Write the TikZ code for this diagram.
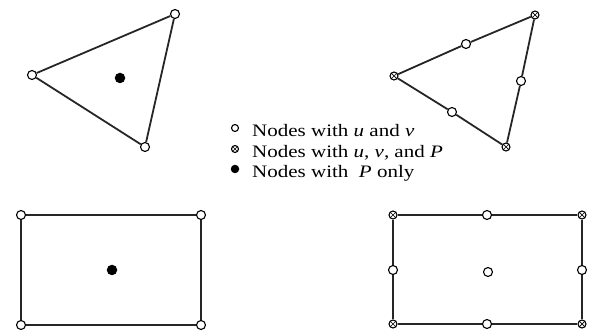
\documentclass[tikz,border=0pt]{standalone}
\usepackage{fontspec}
\setmainfont{Liberation Serif}
\usetikzlibrary{positioning}

\begin{document}
\begin{tikzpicture}[
    x=1pt, y=-1pt,
    uv/.style={circle, draw, line width=1.1pt, fill=white, inner sep=0pt, minimum size=9pt},
    uvp/.style={circle, draw, line width=1.1pt, fill=white, inner sep=0pt, minimum size=8pt,
        path picture={\draw[line width=0.7pt] (path picture bounding box.south west) -- (path picture bounding box.north east)
            (path picture bounding box.north west) -- (path picture bounding box.south east);}},
    ponly/.style={circle, fill=black, inner sep=0pt, minimum size=10.5pt},
    legtext/.style={anchor=base west, inner sep=0pt, font=\fontsize{17.5}{20}\selectfont},
    edge/.style={line width=1.8pt, black!85}
]
\useasboundingbox (0,0) rectangle (592,331);

% Left triangle
\node[uv] (t1a) at (175,14) {};
\node[uv] (t1b) at (32,75) {};
\node[uv] (t1c) at (145,147) {};
\node[ponly] (t1p) at (120,78) {};
\draw[edge] (t1a) -- (t1b);
\draw[edge] (t1b) -- (t1c);
\draw[edge] (t1c) -- (t1a);

% Right triangle
\node[uvp] (t2a) at (535,15) {};
\node[uvp] (t2b) at (394,76) {};
\node[uvp] (t2c) at (506,147) {};
\node[uv] (t2ab) at (466,44) {};
\node[uv] (t2bc) at (452,112) {};
\node[uv] (t2ca) at (521,81) {};
\draw[edge] (t2a) -- (t2ab);
\draw[edge] (t2ab) -- (t2b);
\draw[edge] (t2b) -- (t2bc);
\draw[edge] (t2bc) -- (t2c);
\draw[edge] (t2c) -- (t2ca);
\draw[edge] (t2ca) -- (t2a);

% Legend
\node[uv, minimum size=7pt] (k1) at (235,128) {};
\node[uvp, minimum size=7pt] (k2) at (235,149) {};
\node[ponly, minimum size=8.5pt] (k3) at (235,169) {};
\node[legtext] (l1) at (252,136.5) {\scalebox{1.2}[1]{Nodes with \textit{u} and \textit{v}}};
\node[legtext] (l2) at (252,157.5) {\scalebox{1.2}[1]{Nodes with \textit{u}, \textit{v}, and \textit{P}}};
\node[legtext] (l3) at (252,178) {\scalebox{1.2}[1]{Nodes with \ \textit{P} only}};

% Left rectangle
\node[uv] (r1a) at (21,215) {};
\node[uv] (r1b) at (201,215) {};
\node[uv] (r1c) at (201,325) {};
\node[uv] (r1d) at (21,325) {};
\node[ponly] (r1p) at (112,270) {};
\draw[edge] (r1a) -- (r1b);
\draw[edge] (r1b) -- (r1c);
\draw[edge] (r1c) -- (r1d);
\draw[edge] (r1d) -- (r1a);

% Right rectangle
\node[uvp] (r2a) at (393,215) {};
\node[uvp] (r2b) at (582,215) {};
\node[uvp] (r2c) at (582,324) {};
\node[uvp] (r2d) at (393,324) {};
\node[uv] (r2ab) at (487,215) {};
\node[uv] (r2bc) at (582,270) {};
\node[uv] (r2cd) at (487,324) {};
\node[uv] (r2da) at (393,270) {};
\node[uv] (r2m) at (488,272) {};
\draw[edge] (r2a) -- (r2ab);
\draw[edge] (r2ab) -- (r2b);
\draw[edge] (r2b) -- (r2bc);
\draw[edge] (r2bc) -- (r2c);
\draw[edge] (r2c) -- (r2cd);
\draw[edge] (r2cd) -- (r2d);
\draw[edge] (r2d) -- (r2da);
\draw[edge] (r2da) -- (r2a);

\end{tikzpicture}
\end{document}
